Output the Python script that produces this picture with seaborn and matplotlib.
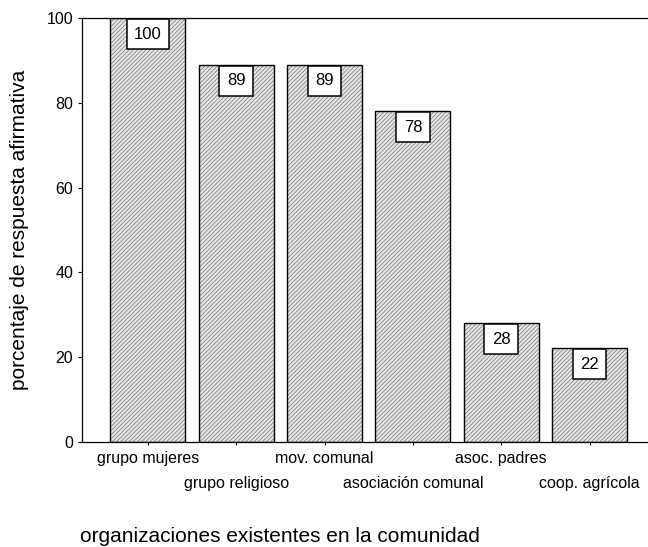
import matplotlib
matplotlib.use("Agg")
import matplotlib.pyplot as plt
from matplotlib.colors import to_rgba
import seaborn as sns
import pandas as pd

# datos del grafico
organizaciones = ["grupo mujeres", "grupo religioso", "mov. comunal",
                  "asociación comunal", "asoc. padres", "coop. agrícola"]
porcentajes = [100, 89, 89, 78, 28, 22]

sns.set_style("ticks")
plt.rcParams['font.family'] = ['Liberation Sans', 'DejaVu Sans']
plt.rcParams['hatch.linewidth'] = 0.6
for k in ['text.color', 'axes.labelcolor', 'xtick.color', 'ytick.color', 'axes.edgecolor']:
    plt.rcParams[k] = 'black'

df = pd.DataFrame({"org": organizaciones, "pct": porcentajes})

fig = plt.figure(figsize=(6.48, 5.47), dpi=100)
ax = fig.add_axes([0.126, 0.1925, 0.886, 0.7745])

sns.barplot(data=df, x="org", y="pct", color="white", edgecolor="black",
            linewidth=1.0, width=0.85, saturation=1, ax=ax)
for p in ax.patches:
    p.set_hatch("////////")
    p.set_facecolor("#e6e6e6")
    p._hatch_color = to_rgba('#888888')  # hatch gris, borde negro
    p.stale = True

# etiquetas con caja
for i, v in enumerate(porcentajes):
    ax.annotate(str(v), (i, v), xytext=(0, -16), textcoords='offset pixels',
                ha='center', va='center', fontsize=12,
                bbox=dict(boxstyle='square,pad=0.45', fc='white', ec='black', lw=1.1))

ax.set_xlim(-0.75, 5.75)
ax.set_ylim(0, 100)
ax.set_yticks([0, 20, 40, 60, 80, 100])
ax.tick_params(axis='y', length=3, width=0.8, labelsize=11.5, pad=3)
ax.tick_params(axis='x', length=2, width=0.8, labelsize=11.5, pad=5)
for i, t in enumerate(ax.xaxis.get_major_ticks()):
    if i % 2 == 1:
        t.set_pad(23)

for s in ax.spines.values():
    s.set_linewidth(0.9)

ax.set_xlabel("")
ax.set_ylabel("porcentaje de respuesta afirmativa", fontsize=15)
ax.yaxis.set_label_coords(-0.091, 0.5)
fig.text(80 / 648, 1 - 537 / 547, "organizaciones existentes en la comunidad",
         fontsize=15, ha='left', va='center')

plt.savefig("out.png", dpi=100)
